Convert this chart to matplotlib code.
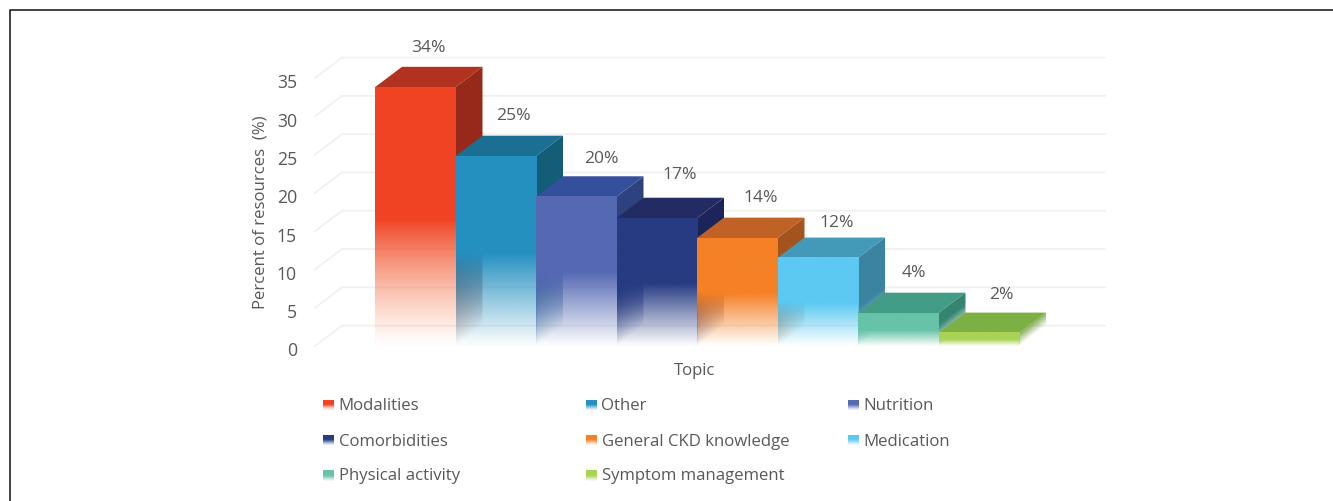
import numpy as np
from matplotlib import pyplot as plt
from matplotlib.colors import to_rgb
from matplotlib.patches import Polygon
from matplotlib.transforms import ScaledTranslation

topics = ['Modalities', 'Other', 'Nutrition', 'Comorbidities', 'General CKD knowledge',
          'Medication', 'Physical activity', 'Symptom management']
heights = [33.8, 24.8, 19.5, 16.7, 14.1, 11.5, 4.3, 1.7]
labels = ['34%', '25%', '20%', '17%', '14%', '12%', '4%', '2%']
yticks = [0, 5, 10, 15, 20, 25, 30, 35]

front_cols = ['#f04324', '#2490c0', '#5569b3', '#263b82', '#f58026', '#5bc9f2', '#66c3a8', '#a9d355']
fade_cols = ['#f89060', '#2490c0', '#5569b3', '#263b82', '#f58026', '#5bc9f2', '#66c3a8', '#a9d355']
top_cols = ['#b23220', '#1a6f93', '#34509c', '#222c62', '#c06225', '#439ab8', '#439c85', '#7db043']
side_cols = ['#96291a', '#135d78', '#2f4280', '#1b2559', '#a5531f', '#3a84a1', '#358570', '#6c9e3e']

W, H = 1333, 501
TXT = '#595959'
plt.rcParams['font.family'] = ['Open Sans', 'DejaVu Sans']

fig = plt.figure(figsize=(W / 100, H / 100), dpi=100)
fig.patch.set_facecolor('white')

# front plane of the chart, in pixels of the reference
left, right, top, bottom = 315, 1078, 78, 346
ax = fig.add_axes([left / W, 1 - bottom / H, (right - left) / W, (bottom - top) / H])
ax.patch.set_alpha(0)

px_x = 80.5  # px per bar
px_y = (bottom - top) / 35
xlim = ((left - 375) / px_x, (right - 375) / px_x)
dx = 27 / px_x
dy = 20.4 / px_y


def rgba_img(col, alpha, col2=None):
    # col where alpha is 1, sliding to col2 as it fades out
    c1 = np.array(to_rgb(col))
    c2 = np.array(to_rgb(col2 if col2 else col))
    img = np.ones(alpha.shape + (4,))
    for k in range(3):
        img[..., k] = np.where(alpha >= 1, c1[k], c2[k] + (c1[k] - c2[k]) * alpha)
    img[..., 3] = alpha
    return img


for v in yticks:
    ax.plot([xlim[0], xlim[0] + dx, xlim[1] + dx], [v, v + dy, v + dy], color='#f0f0f0', lw=1.3,
            clip_on=False, zorder=1)

for i, h in enumerate(heights):
    z = 2 + i * 3
    # top face
    ax.add_patch(Polygon([(i, h), (i + 1, h), (i + 1 + dx, h + dy), (i + dx, h + dy)], closed=True,
                         fc=top_cols[i], ec='none', zorder=z, clip_on=False))

    # side face fades towards its lower edge
    vs = np.linspace(h + dy, 0, 200)
    us = np.linspace(0, 1, 60)
    uu, vv = np.meshgrid(us, vs)
    above = vv - uu * dy
    alpha = np.clip(above / (0.3 * h + 1.5), 0, 1)
    im = ax.imshow(rgba_img(side_cols[i], alpha), extent=(i + 1, i + 1 + dx, 0, h + dy), aspect='auto',
                   zorder=z + 1, interpolation='bilinear')
    poly = Polygon([(i + 1, 0), (i + 1 + dx, dy), (i + 1 + dx, h + dy), (i + 1, h)], closed=True,
                   transform=ax.transData, fc='none', ec='none')
    im.set_clip_box(fig.bbox)
    im.set_clip_path(poly)

    # front face: solid on top, fading out from about half its height
    fr = np.linspace(1, 0, 200)
    alpha = np.clip(fr / 0.49, 0.03, 1).reshape(-1, 1)
    ax.imshow(rgba_img(front_cols[i], alpha, fade_cols[i]), extent=(i, i + 1, 0, h), aspect='auto',
              zorder=z + 2, interpolation='bilinear', clip_on=False)

# value labels: offset from the bar's top front corner, in pixels
label_dx = [53, 58, 65, 63, 64, 59, 56, 63]
label_dy = [39, 40, 38, 43, 40, 35, 40, 38]
for i, h in enumerate(heights):
    ax.annotate(labels[i], (i, h), xytext=(label_dx[i] * 0.72, label_dy[i] * 0.72), textcoords='offset points',
                ha='center', va='center', fontsize=12.6, color=TXT, zorder=40, annotation_clip=False)

ax.set_xlim(*xlim)
ax.set_ylim(0, 35)
ax.set_xticks([])
ax.set_yticks(yticks)
ax.tick_params(axis='y', length=0, pad=13, labelsize=12.7, labelcolor=TXT)
down = ScaledTranslation(0, -2.5 / 72, fig.dpi_scale_trans)
for t in ax.get_yticklabels():
    t.set_transform(t.get_transform() + down)
for s in ax.spines.values():
    s.set_visible(False)
ax.set_xlabel('Topic', fontsize=12.1, color=TXT, labelpad=12, x=0.498)
ax.set_ylabel('Percent of resources  (%)', fontsize=12.1, color=TXT, labelpad=6)

# legend, three columns
col_x = [323, 586, 848]
row_y = [405, 440, 475]
for i, name in enumerate(topics):
    sx, sy = col_x[i % 3], row_y[i // 3]
    a = fig.add_axes([sx / W, 1 - (sy + 5.5) / H, 11 / W, 11 / H])
    fr = np.linspace(1, 0, 30)
    sw_alpha = np.clip(fr / 0.5, 0.1, 1).reshape(-1, 1)
    a.imshow(rgba_img(front_cols[i], sw_alpha, fade_cols[i]), aspect='auto', interpolation='bilinear')
    a.axis('off')
    fig.text((sx + 15.5) / W, 1 - (sy + 1.5) / H, name, fontsize=12.1, color=TXT, ha='left', va='center')

# picture frame: only left and top edges
fig.add_artist(plt.Line2D([9.7 / W, 9.7 / W, 1], [0, 1 - 9.7 / H, 1 - 9.7 / H], color='#222222', lw=1.2))

fig.savefig('out.png', dpi=100)
